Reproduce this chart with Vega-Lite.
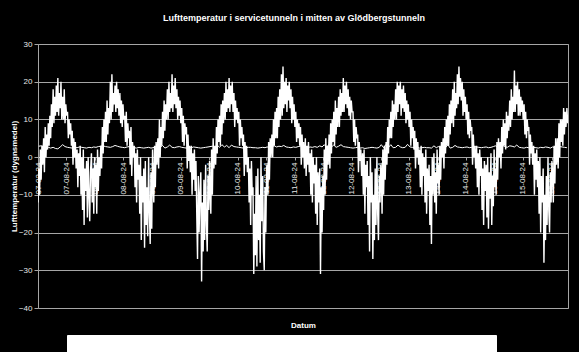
{
"$schema":"https://vega.github.io/schema/vega-lite/v6.json",
"autosize":{"type":"none"},
"padding":{"left":38,"top":44,"right":11,"bottom":44},
"width":530,"height":264,
"background":"black",
"title":{"text":"Lufttemperatur  i servicetunneln i mitten av Glödbergstunneln","font":"Liberation Sans","fontSize":9,"fontWeight":"bold","color":"white","anchor":"middle","baseline":"bottom","offset":8,"dx":-9},
"datasets":{
"tunnel":[
{"d":"2007-03-01","t":2.9},{"d":"2007-03-16","t":3.0},{"d":"2007-04-01","t":2.8},{"d":"2007-04-16","t":2.7},{"d":"2007-05-01","t":2.6},{"d":"2007-05-16","t":2.4},{"d":"2007-06-01","t":2.6},{"d":"2007-06-16","t":2.3},{"d":"2007-07-01","t":2.2},{"d":"2007-07-16","t":2.7},{"d":"2007-08-01","t":3.3},{"d":"2007-08-16","t":2.8},{"d":"2007-09-01","t":2.6},{"d":"2007-09-16","t":2.5},{"d":"2007-10-01","t":2.4},{"d":"2007-10-16","t":2.6},{"d":"2007-11-01","t":2.5},{"d":"2007-11-16","t":2.7},{"d":"2007-12-01","t":2.6},{"d":"2007-12-16","t":2.5},
{"d":"2008-01-01","t":2.4},{"d":"2008-01-16","t":2.6},{"d":"2008-02-01","t":2.5},{"d":"2008-02-16","t":2.7},{"d":"2008-03-01","t":2.6},{"d":"2008-03-16","t":2.8},{"d":"2008-04-01","t":2.9},{"d":"2008-04-16","t":3.0},{"d":"2008-05-01","t":2.8},{"d":"2008-05-16","t":2.7},{"d":"2008-06-01","t":2.6},{"d":"2008-06-16","t":2.8},{"d":"2008-07-01","t":3.1},{"d":"2008-07-16","t":2.9},{"d":"2008-08-01","t":2.7},{"d":"2008-08-16","t":2.6},{"d":"2008-09-01","t":2.5},{"d":"2008-09-16","t":2.7},{"d":"2008-10-01","t":2.8},{"d":"2008-10-16","t":2.6},{"d":"2008-11-01","t":2.5},{"d":"2008-11-16","t":2.4},{"d":"2008-12-01","t":2.6},{"d":"2008-12-16","t":2.5},
{"d":"2009-01-01","t":2.4},{"d":"2009-01-16","t":2.5},{"d":"2009-02-01","t":2.6},{"d":"2009-02-16","t":2.4},{"d":"2009-03-01","t":2.5},{"d":"2009-03-16","t":2.7},{"d":"2009-04-01","t":3.2},{"d":"2009-04-16","t":2.6},{"d":"2009-05-01","t":3.1},{"d":"2009-05-16","t":2.4},{"d":"2009-06-01","t":2.7},{"d":"2009-06-16","t":3.2},{"d":"2009-07-01","t":2.6},{"d":"2009-07-16","t":2.5},{"d":"2009-08-01","t":2.7},{"d":"2009-08-16","t":2.8},{"d":"2009-09-01","t":2.6},{"d":"2009-09-16","t":2.5},{"d":"2009-10-01","t":2.4},{"d":"2009-10-16","t":2.6},{"d":"2009-11-01","t":2.5},{"d":"2009-11-16","t":2.7},{"d":"2009-12-01","t":2.6},{"d":"2009-12-16","t":2.5},
{"d":"2010-01-01","t":2.4},{"d":"2010-01-16","t":2.5},{"d":"2010-02-01","t":2.6},{"d":"2010-02-16","t":2.7},{"d":"2010-03-01","t":2.8},{"d":"2010-03-16","t":2.9},{"d":"2010-04-01","t":2.7},{"d":"2010-04-16","t":3.2},{"d":"2010-05-01","t":2.6},{"d":"2010-05-16","t":3.3},{"d":"2010-06-01","t":2.7},{"d":"2010-06-16","t":3.1},{"d":"2010-07-01","t":2.5},{"d":"2010-07-16","t":3.2},{"d":"2010-08-01","t":2.8},{"d":"2010-08-16","t":2.7},{"d":"2010-09-01","t":2.6},{"d":"2010-09-16","t":2.5},{"d":"2010-10-01","t":2.4},{"d":"2010-10-16","t":2.5},{"d":"2010-11-01","t":2.6},{"d":"2010-11-16","t":2.6},{"d":"2010-12-01","t":2.5},{"d":"2010-12-16","t":2.5},
{"d":"2011-01-01","t":2.4},{"d":"2011-01-16","t":2.5},{"d":"2011-02-01","t":2.6},{"d":"2011-02-16","t":2.5},{"d":"2011-03-01","t":2.7},{"d":"2011-03-16","t":2.6},{"d":"2011-04-01","t":2.8},{"d":"2011-04-16","t":3.0},{"d":"2011-05-01","t":2.7},{"d":"2011-05-16","t":2.9},{"d":"2011-06-01","t":2.8},{"d":"2011-06-16","t":3.1},{"d":"2011-07-01","t":2.7},{"d":"2011-07-16","t":2.6},{"d":"2011-08-01","t":2.5},{"d":"2011-08-16","t":2.7},{"d":"2011-09-01","t":2.6},{"d":"2011-09-16","t":2.8},{"d":"2011-10-01","t":2.9},{"d":"2011-10-16","t":2.7},{"d":"2011-11-01","t":2.6},{"d":"2011-11-16","t":2.5},{"d":"2011-12-01","t":2.7},{"d":"2011-12-16","t":2.6},
{"d":"2012-01-01","t":2.8},{"d":"2012-01-16","t":2.6},{"d":"2012-02-01","t":3.0},{"d":"2012-02-16","t":2.7},{"d":"2012-03-01","t":3.3},{"d":"2012-03-16","t":2.6},{"d":"2012-04-01","t":3.4},{"d":"2012-04-16","t":2.7},{"d":"2012-05-01","t":3.2},{"d":"2012-05-16","t":2.6},{"d":"2012-06-01","t":2.9},{"d":"2012-06-16","t":3.3},{"d":"2012-07-01","t":2.8},{"d":"2012-07-16","t":2.7},{"d":"2012-08-01","t":2.6},{"d":"2012-08-16","t":2.5},{"d":"2012-09-01","t":2.4},{"d":"2012-09-16","t":2.5},{"d":"2012-10-01","t":2.6},{"d":"2012-10-16","t":2.4},{"d":"2012-11-01","t":2.5},{"d":"2012-11-16","t":2.3},{"d":"2012-12-01","t":2.4},{"d":"2012-12-16","t":2.5},
{"d":"2013-01-01","t":2.6},{"d":"2013-01-16","t":2.5},{"d":"2013-02-01","t":2.4},{"d":"2013-02-16","t":2.6},{"d":"2013-03-01","t":3.3},{"d":"2013-03-16","t":2.5},{"d":"2013-04-01","t":3.4},{"d":"2013-04-16","t":2.6},{"d":"2013-05-01","t":3.3},{"d":"2013-05-16","t":2.5},{"d":"2013-06-01","t":2.6},{"d":"2013-06-16","t":3.2},{"d":"2013-07-01","t":2.7},{"d":"2013-07-16","t":2.5},{"d":"2013-08-01","t":2.6},{"d":"2013-08-16","t":3.4},{"d":"2013-09-01","t":2.7},{"d":"2013-09-16","t":2.6},{"d":"2013-10-01","t":2.5},{"d":"2013-10-16","t":2.6},{"d":"2013-11-01","t":2.4},{"d":"2013-11-16","t":2.5},{"d":"2013-12-01","t":2.6},{"d":"2013-12-16","t":2.5},
{"d":"2014-01-01","t":2.5},{"d":"2014-01-16","t":2.4},{"d":"2014-02-01","t":3.0},{"d":"2014-02-16","t":2.5},{"d":"2014-03-01","t":2.8},{"d":"2014-03-16","t":2.6},{"d":"2014-04-01","t":3.2},{"d":"2014-04-16","t":2.5},{"d":"2014-05-01","t":3.3},{"d":"2014-05-16","t":2.4},{"d":"2014-06-01","t":2.6},{"d":"2014-06-16","t":3.1},{"d":"2014-07-01","t":2.7},{"d":"2014-07-16","t":2.6},{"d":"2014-08-01","t":2.5},{"d":"2014-08-16","t":2.6},{"d":"2014-09-01","t":2.7},{"d":"2014-09-16","t":2.5},{"d":"2014-10-01","t":2.6},{"d":"2014-10-16","t":2.8},{"d":"2014-11-01","t":2.7},{"d":"2014-11-16","t":2.6},{"d":"2014-12-01","t":2.5},{"d":"2014-12-16","t":2.6},
{"d":"2015-01-01","t":2.7},{"d":"2015-01-16","t":2.5},{"d":"2015-02-01","t":2.6},{"d":"2015-02-16","t":2.8},{"d":"2015-03-01","t":3.0},{"d":"2015-03-16","t":2.7},{"d":"2015-04-01","t":2.9},{"d":"2015-04-16","t":3.1},{"d":"2015-05-01","t":2.8},{"d":"2015-05-16","t":2.6},{"d":"2015-06-01","t":3.0},{"d":"2015-06-16","t":2.9},{"d":"2015-07-01","t":2.7},{"d":"2015-07-16","t":3.2},{"d":"2015-08-01","t":2.6},{"d":"2015-08-16","t":2.5},{"d":"2015-09-01","t":2.4},{"d":"2015-09-16","t":2.6},{"d":"2015-10-01","t":2.5},{"d":"2015-10-16","t":2.7},{"d":"2015-11-01","t":2.6},{"d":"2015-11-16","t":2.5},{"d":"2015-12-01","t":2.4},{"d":"2015-12-16","t":2.6},
{"d":"2016-01-01","t":2.5},{"d":"2016-01-16","t":2.7},{"d":"2016-02-01","t":2.6},{"d":"2016-02-16","t":2.4},{"d":"2016-03-01","t":2.7},{"d":"2016-03-16","t":2.5},{"d":"2016-04-01","t":2.6},{"d":"2016-04-16","t":2.8},{"d":"2016-05-01","t":2.7},{"d":"2016-05-16","t":2.6},{"d":"2016-06-01","t":2.5}
],
"ute":[
{"d":"2007-02-24","t":-12},
{"d":"2007-03-01","t":-3},{"d":"2007-03-06","t":-10},{"d":"2007-03-11","t":2},{"d":"2007-03-16","t":-6},{"d":"2007-03-21","t":3},{"d":"2007-03-26","t":-2},
{"d":"2007-04-01","t":5},{"d":"2007-04-06","t":-4},{"d":"2007-04-11","t":8},{"d":"2007-04-16","t":0},{"d":"2007-04-21","t":6},{"d":"2007-04-26","t":2},
{"d":"2007-05-01","t":9},{"d":"2007-05-06","t":3},{"d":"2007-05-11","t":11},{"d":"2007-05-16","t":5},{"d":"2007-05-21","t":14},{"d":"2007-05-26","t":8},
{"d":"2007-06-01","t":18},{"d":"2007-06-06","t":9},{"d":"2007-06-11","t":16},{"d":"2007-06-16","t":11},{"d":"2007-06-21","t":19},{"d":"2007-06-26","t":12},
{"d":"2007-07-01","t":21},{"d":"2007-07-06","t":11},{"d":"2007-07-11","t":17},{"d":"2007-07-16","t":13},{"d":"2007-07-21","t":20},{"d":"2007-07-26","t":10},
{"d":"2007-08-01","t":16},{"d":"2007-08-06","t":10},{"d":"2007-08-11","t":18},{"d":"2007-08-16","t":9},{"d":"2007-08-21","t":14},{"d":"2007-08-26","t":11},
{"d":"2007-09-01","t":12},{"d":"2007-09-06","t":5},{"d":"2007-09-11","t":10},{"d":"2007-09-16","t":6},{"d":"2007-09-21","t":9},{"d":"2007-09-26","t":3},
{"d":"2007-10-01","t":7},{"d":"2007-10-06","t":-2},{"d":"2007-10-11","t":5},{"d":"2007-10-16","t":0},{"d":"2007-10-21","t":4},{"d":"2007-10-26","t":-3},
{"d":"2007-11-01","t":2},{"d":"2007-11-06","t":-8},{"d":"2007-11-11","t":1},{"d":"2007-11-16","t":-5},{"d":"2007-11-21","t":3},{"d":"2007-11-26","t":-10},
{"d":"2007-12-01","t":0},{"d":"2007-12-06","t":-14},{"d":"2007-12-11","t":2},{"d":"2007-12-16","t":-18},{"d":"2007-12-21","t":-3},{"d":"2007-12-26","t":-9},
{"d":"2008-01-01","t":-1},{"d":"2008-01-06","t":-16},{"d":"2008-01-11","t":0},{"d":"2008-01-16","t":-10},{"d":"2008-01-21","t":-17},{"d":"2008-01-26","t":-4},
{"d":"2008-02-01","t":1},{"d":"2008-02-06","t":-12},{"d":"2008-02-11","t":-3},{"d":"2008-02-16","t":-15},{"d":"2008-02-21","t":0},{"d":"2008-02-26","t":-8},
{"d":"2008-03-01","t":-2},{"d":"2008-03-06","t":-15},{"d":"2008-03-11","t":2},{"d":"2008-03-16","t":-9},{"d":"2008-03-21","t":0},{"d":"2008-03-26","t":-5},
{"d":"2008-04-01","t":3},{"d":"2008-04-06","t":-3},{"d":"2008-04-11","t":8},{"d":"2008-04-16","t":1},{"d":"2008-04-21","t":10},{"d":"2008-04-26","t":4},
{"d":"2008-05-01","t":12},{"d":"2008-05-06","t":4},{"d":"2008-05-11","t":15},{"d":"2008-05-16","t":6},{"d":"2008-05-21","t":13},{"d":"2008-05-26","t":9},
{"d":"2008-06-01","t":20},{"d":"2008-06-06","t":10},{"d":"2008-06-11","t":22},{"d":"2008-06-16","t":12},{"d":"2008-06-21","t":17},{"d":"2008-06-26","t":14},
{"d":"2008-07-01","t":19},{"d":"2008-07-06","t":12},{"d":"2008-07-11","t":20},{"d":"2008-07-16","t":13},{"d":"2008-07-21","t":18},{"d":"2008-07-26","t":11},
{"d":"2008-08-01","t":17},{"d":"2008-08-06","t":9},{"d":"2008-08-11","t":15},{"d":"2008-08-16","t":8},{"d":"2008-08-21","t":14},{"d":"2008-08-26","t":10},
{"d":"2008-09-01","t":11},{"d":"2008-09-06","t":4},{"d":"2008-09-11","t":12},{"d":"2008-09-16","t":3},{"d":"2008-09-21","t":9},{"d":"2008-09-26","t":5},
{"d":"2008-10-01","t":7},{"d":"2008-10-06","t":-2},{"d":"2008-10-11","t":8},{"d":"2008-10-16","t":-5},{"d":"2008-10-21","t":4},{"d":"2008-10-26","t":0},
{"d":"2008-11-01","t":3},{"d":"2008-11-06","t":-8},{"d":"2008-11-11","t":1},{"d":"2008-11-16","t":-12},{"d":"2008-11-21","t":2},{"d":"2008-11-26","t":-6},
{"d":"2008-12-01","t":-2},{"d":"2008-12-06","t":-15},{"d":"2008-12-11","t":0},{"d":"2008-12-16","t":-22},{"d":"2008-12-21","t":-5},{"d":"2008-12-26","t":-12},
{"d":"2009-01-01","t":-3},{"d":"2009-01-06","t":-24},{"d":"2009-01-11","t":-1},{"d":"2009-01-16","t":-18},{"d":"2009-01-21","t":-8},{"d":"2009-01-26","t":-21},
{"d":"2009-02-01","t":0},{"d":"2009-02-06","t":-15},{"d":"2009-02-11","t":-23},{"d":"2009-02-16","t":-4},{"d":"2009-02-21","t":-19},{"d":"2009-02-26","t":2},
{"d":"2009-03-01","t":-5},{"d":"2009-03-06","t":-12},{"d":"2009-03-11","t":3},{"d":"2009-03-16","t":-8},{"d":"2009-03-21","t":4},{"d":"2009-03-26","t":-2},
{"d":"2009-04-01","t":5},{"d":"2009-04-06","t":-3},{"d":"2009-04-11","t":10},{"d":"2009-04-16","t":0},{"d":"2009-04-21","t":8},{"d":"2009-04-26","t":3},
{"d":"2009-05-01","t":12},{"d":"2009-05-06","t":5},{"d":"2009-05-11","t":15},{"d":"2009-05-16","t":7},{"d":"2009-05-21","t":14},{"d":"2009-05-26","t":10},
{"d":"2009-06-01","t":18},{"d":"2009-06-06","t":10},{"d":"2009-06-11","t":20},{"d":"2009-06-16","t":12},{"d":"2009-06-21","t":17},{"d":"2009-06-26","t":13},
{"d":"2009-07-01","t":22},{"d":"2009-07-06","t":12},{"d":"2009-07-11","t":19},{"d":"2009-07-16","t":14},{"d":"2009-07-21","t":21},{"d":"2009-07-26","t":13},
{"d":"2009-08-01","t":18},{"d":"2009-08-06","t":10},{"d":"2009-08-11","t":16},{"d":"2009-08-16","t":11},{"d":"2009-08-21","t":15},{"d":"2009-08-26","t":9},
{"d":"2009-09-01","t":13},{"d":"2009-09-06","t":4},{"d":"2009-09-11","t":11},{"d":"2009-09-16","t":3},{"d":"2009-09-21","t":9},{"d":"2009-09-26","t":6},
{"d":"2009-10-01","t":8},{"d":"2009-10-06","t":-3},{"d":"2009-10-11","t":6},{"d":"2009-10-16","t":-1},{"d":"2009-10-21","t":3},{"d":"2009-10-26","t":-4},
{"d":"2009-11-01","t":3},{"d":"2009-11-06","t":-10},{"d":"2009-11-11","t":1},{"d":"2009-11-16","t":-6},{"d":"2009-11-21","t":2},{"d":"2009-11-26","t":-9},
{"d":"2009-12-01","t":-1},{"d":"2009-12-06","t":-15},{"d":"2009-12-11","t":-27},{"d":"2009-12-16","t":-5},{"d":"2009-12-21","t":-20},{"d":"2009-12-26","t":-10},
{"d":"2010-01-01","t":-4},{"d":"2010-01-06","t":-33},{"d":"2010-01-11","t":-12},{"d":"2010-01-16","t":-25},{"d":"2010-01-21","t":-6},{"d":"2010-01-26","t":-22},
{"d":"2010-02-01","t":-2},{"d":"2010-02-06","t":-18},{"d":"2010-02-11","t":-25},{"d":"2010-02-16","t":-5},{"d":"2010-02-21","t":-14},{"d":"2010-02-26","t":-1},
{"d":"2010-03-01","t":-8},{"d":"2010-03-06","t":-15},{"d":"2010-03-11","t":2},{"d":"2010-03-16","t":-10},{"d":"2010-03-21","t":5},{"d":"2010-03-26","t":-3},
{"d":"2010-04-01","t":3},{"d":"2010-04-06","t":-2},{"d":"2010-04-11","t":8},{"d":"2010-04-16","t":1},{"d":"2010-04-21","t":10},{"d":"2010-04-26","t":4},
{"d":"2010-05-01","t":11},{"d":"2010-05-06","t":3},{"d":"2010-05-11","t":14},{"d":"2010-05-16","t":6},{"d":"2010-05-21","t":15},{"d":"2010-05-26","t":9},
{"d":"2010-06-01","t":17},{"d":"2010-06-06","t":10},{"d":"2010-06-11","t":20},{"d":"2010-06-16","t":12},{"d":"2010-06-21","t":18},{"d":"2010-06-26","t":13},
{"d":"2010-07-01","t":21},{"d":"2010-07-06","t":12},{"d":"2010-07-11","t":19},{"d":"2010-07-16","t":14},{"d":"2010-07-21","t":20},{"d":"2010-07-26","t":12},
{"d":"2010-08-01","t":17},{"d":"2010-08-06","t":8},{"d":"2010-08-11","t":15},{"d":"2010-08-16","t":10},{"d":"2010-08-21","t":13},{"d":"2010-08-26","t":9},
{"d":"2010-09-01","t":12},{"d":"2010-09-06","t":3},{"d":"2010-09-11","t":10},{"d":"2010-09-16","t":5},{"d":"2010-09-21","t":8},{"d":"2010-09-26","t":3},
{"d":"2010-10-01","t":6},{"d":"2010-10-06","t":-5},{"d":"2010-10-11","t":4},{"d":"2010-10-16","t":-2},{"d":"2010-10-21","t":3},{"d":"2010-10-26","t":-4},
{"d":"2010-11-01","t":0},{"d":"2010-11-06","t":-12},{"d":"2010-11-11","t":-3},{"d":"2010-11-16","t":-18},{"d":"2010-11-21","t":-1},{"d":"2010-11-26","t":-10},
{"d":"2010-12-01","t":-8},{"d":"2010-12-06","t":-31},{"d":"2010-12-11","t":-15},{"d":"2010-12-16","t":-26},{"d":"2010-12-21","t":-5},{"d":"2010-12-26","t":-29},
{"d":"2011-01-01","t":-3},{"d":"2011-01-06","t":-22},{"d":"2011-01-11","t":-10},{"d":"2011-01-16","t":-28},{"d":"2011-01-21","t":0},{"d":"2011-01-26","t":-17},
{"d":"2011-02-01","t":-5},{"d":"2011-02-06","t":-25},{"d":"2011-02-11","t":-30},{"d":"2011-02-16","t":-8},{"d":"2011-02-21","t":-20},{"d":"2011-02-26","t":-3},
{"d":"2011-03-01","t":-2},{"d":"2011-03-06","t":-10},{"d":"2011-03-11","t":4},{"d":"2011-03-16","t":-6},{"d":"2011-03-21","t":5},{"d":"2011-03-26","t":0},
{"d":"2011-04-01","t":6},{"d":"2011-04-06","t":0},{"d":"2011-04-11","t":10},{"d":"2011-04-16","t":3},{"d":"2011-04-21","t":12},{"d":"2011-04-26","t":5},
{"d":"2011-05-01","t":13},{"d":"2011-05-06","t":5},{"d":"2011-05-11","t":16},{"d":"2011-05-16","t":8},{"d":"2011-05-21","t":18},{"d":"2011-05-26","t":10},
{"d":"2011-06-01","t":22},{"d":"2011-06-06","t":11},{"d":"2011-06-11","t":24},{"d":"2011-06-16","t":13},{"d":"2011-06-21","t":20},{"d":"2011-06-26","t":14},
{"d":"2011-07-01","t":21},{"d":"2011-07-06","t":12},{"d":"2011-07-11","t":19},{"d":"2011-07-16","t":15},{"d":"2011-07-21","t":20},{"d":"2011-07-26","t":13},
{"d":"2011-08-01","t":18},{"d":"2011-08-06","t":9},{"d":"2011-08-11","t":16},{"d":"2011-08-16","t":10},{"d":"2011-08-21","t":14},{"d":"2011-08-26","t":8},
{"d":"2011-09-01","t":12},{"d":"2011-09-06","t":4},{"d":"2011-09-11","t":10},{"d":"2011-09-16","t":5},{"d":"2011-09-21","t":9},{"d":"2011-09-26","t":3},
{"d":"2011-10-01","t":8},{"d":"2011-10-06","t":-2},{"d":"2011-10-11","t":6},{"d":"2011-10-16","t":0},{"d":"2011-10-21","t":4},{"d":"2011-10-26","t":-3},
{"d":"2011-11-01","t":5},{"d":"2011-11-06","t":-5},{"d":"2011-11-11","t":3},{"d":"2011-11-16","t":-2},{"d":"2011-11-21","t":4},{"d":"2011-11-26","t":-4},
{"d":"2011-12-01","t":1},{"d":"2011-12-06","t":-10},{"d":"2011-12-11","t":2},{"d":"2011-12-16","t":-12},{"d":"2011-12-21","t":0},{"d":"2011-12-26","t":-7},
{"d":"2012-01-01","t":-2},{"d":"2012-01-06","t":-15},{"d":"2012-01-11","t":0},{"d":"2012-01-16","t":-18},{"d":"2012-01-21","t":-4},{"d":"2012-01-26","t":-12},
{"d":"2012-02-01","t":-3},{"d":"2012-02-06","t":-31},{"d":"2012-02-11","t":-8},{"d":"2012-02-16","t":-20},{"d":"2012-02-21","t":-5},{"d":"2012-02-26","t":-14},
{"d":"2012-03-01","t":2},{"d":"2012-03-06","t":-10},{"d":"2012-03-11","t":5},{"d":"2012-03-16","t":-6},{"d":"2012-03-21","t":3},{"d":"2012-03-26","t":-2},
{"d":"2012-04-01","t":6},{"d":"2012-04-06","t":-3},{"d":"2012-04-11","t":9},{"d":"2012-04-16","t":1},{"d":"2012-04-21","t":10},{"d":"2012-04-26","t":4},
{"d":"2012-05-01","t":12},{"d":"2012-05-06","t":3},{"d":"2012-05-11","t":15},{"d":"2012-05-16","t":6},{"d":"2012-05-21","t":13},{"d":"2012-05-26","t":8},
{"d":"2012-06-01","t":16},{"d":"2012-06-06","t":8},{"d":"2012-06-11","t":18},{"d":"2012-06-16","t":11},{"d":"2012-06-21","t":17},{"d":"2012-06-26","t":12},
{"d":"2012-07-01","t":21},{"d":"2012-07-06","t":12},{"d":"2012-07-11","t":19},{"d":"2012-07-16","t":14},{"d":"2012-07-21","t":20},{"d":"2012-07-26","t":13},
{"d":"2012-08-01","t":18},{"d":"2012-08-06","t":11},{"d":"2012-08-11","t":16},{"d":"2012-08-16","t":10},{"d":"2012-08-21","t":15},{"d":"2012-08-26","t":12},
{"d":"2012-09-01","t":12},{"d":"2012-09-06","t":4},{"d":"2012-09-11","t":10},{"d":"2012-09-16","t":3},{"d":"2012-09-21","t":8},{"d":"2012-09-26","t":5},
{"d":"2012-10-01","t":6},{"d":"2012-10-06","t":-4},{"d":"2012-10-11","t":4},{"d":"2012-10-16","t":-1},{"d":"2012-10-21","t":2},{"d":"2012-10-26","t":-5},
{"d":"2012-11-01","t":1},{"d":"2012-11-06","t":-10},{"d":"2012-11-11","t":2},{"d":"2012-11-16","t":-15},{"d":"2012-11-21","t":-2},{"d":"2012-11-26","t":-8},
{"d":"2012-12-01","t":-1},{"d":"2012-12-06","t":-18},{"d":"2012-12-11","t":-5},{"d":"2012-12-16","t":-25},{"d":"2012-12-21","t":0},{"d":"2012-12-26","t":-12},
{"d":"2013-01-01","t":-4},{"d":"2013-01-06","t":-27},{"d":"2013-01-11","t":-10},{"d":"2013-01-16","t":-22},{"d":"2013-01-21","t":-3},{"d":"2013-01-26","t":-18},
{"d":"2013-02-01","t":0},{"d":"2013-02-06","t":-15},{"d":"2013-02-11","t":-22},{"d":"2013-02-16","t":-5},{"d":"2013-02-21","t":-12},{"d":"2013-02-26","t":-2},
{"d":"2013-03-01","t":-3},{"d":"2013-03-06","t":-15},{"d":"2013-03-11","t":2},{"d":"2013-03-16","t":-10},{"d":"2013-03-21","t":3},{"d":"2013-03-26","t":-6},
{"d":"2013-04-01","t":4},{"d":"2013-04-06","t":-2},{"d":"2013-04-11","t":8},{"d":"2013-04-16","t":1},{"d":"2013-04-21","t":10},{"d":"2013-04-26","t":5},
{"d":"2013-05-01","t":12},{"d":"2013-05-06","t":5},{"d":"2013-05-11","t":15},{"d":"2013-05-16","t":8},{"d":"2013-05-21","t":14},{"d":"2013-05-26","t":10},
{"d":"2013-06-01","t":18},{"d":"2013-06-06","t":10},{"d":"2013-06-11","t":20},{"d":"2013-06-16","t":12},{"d":"2013-06-21","t":19},{"d":"2013-06-26","t":14},
{"d":"2013-07-01","t":20},{"d":"2013-07-06","t":11},{"d":"2013-07-11","t":18},{"d":"2013-07-16","t":13},{"d":"2013-07-21","t":19},{"d":"2013-07-26","t":12},
{"d":"2013-08-01","t":17},{"d":"2013-08-06","t":9},{"d":"2013-08-11","t":15},{"d":"2013-08-16","t":10},{"d":"2013-08-21","t":14},{"d":"2013-08-26","t":8},
{"d":"2013-09-01","t":12},{"d":"2013-09-06","t":3},{"d":"2013-09-11","t":10},{"d":"2013-09-16","t":5},{"d":"2013-09-21","t":8},{"d":"2013-09-26","t":2},
{"d":"2013-10-01","t":7},{"d":"2013-10-06","t":-3},{"d":"2013-10-11","t":5},{"d":"2013-10-16","t":0},{"d":"2013-10-21","t":4},{"d":"2013-10-26","t":-2},
{"d":"2013-11-01","t":2},{"d":"2013-11-06","t":-8},{"d":"2013-11-11","t":3},{"d":"2013-11-16","t":-10},{"d":"2013-11-21","t":1},{"d":"2013-11-26","t":-5},
{"d":"2013-12-01","t":0},{"d":"2013-12-06","t":-12},{"d":"2013-12-11","t":2},{"d":"2013-12-16","t":-15},{"d":"2013-12-21","t":-3},{"d":"2013-12-26","t":-9},
{"d":"2014-01-01","t":-2},{"d":"2014-01-06","t":-18},{"d":"2014-01-11","t":-5},{"d":"2014-01-16","t":-23},{"d":"2014-01-21","t":0},{"d":"2014-01-26","t":-10},
{"d":"2014-02-01","t":1},{"d":"2014-02-06","t":-12},{"d":"2014-02-11","t":-4},{"d":"2014-02-16","t":-15},{"d":"2014-02-21","t":2},{"d":"2014-02-26","t":-7},
{"d":"2014-03-01","t":-2},{"d":"2014-03-06","t":-10},{"d":"2014-03-11","t":3},{"d":"2014-03-16","t":-6},{"d":"2014-03-21","t":4},{"d":"2014-03-26","t":0},
{"d":"2014-04-01","t":5},{"d":"2014-04-06","t":-3},{"d":"2014-04-11","t":8},{"d":"2014-04-16","t":1},{"d":"2014-04-21","t":10},{"d":"2014-04-26","t":3},
{"d":"2014-05-01","t":11},{"d":"2014-05-06","t":3},{"d":"2014-05-11","t":14},{"d":"2014-05-16","t":6},{"d":"2014-05-21","t":15},{"d":"2014-05-26","t":9},
{"d":"2014-06-01","t":18},{"d":"2014-06-06","t":8},{"d":"2014-06-11","t":20},{"d":"2014-06-16","t":11},{"d":"2014-06-21","t":17},{"d":"2014-06-26","t":13},
{"d":"2014-07-01","t":22},{"d":"2014-07-06","t":14},{"d":"2014-07-11","t":24},{"d":"2014-07-16","t":16},{"d":"2014-07-21","t":21},{"d":"2014-07-26","t":15},
{"d":"2014-08-01","t":20},{"d":"2014-08-06","t":11},{"d":"2014-08-11","t":18},{"d":"2014-08-16","t":12},{"d":"2014-08-21","t":16},{"d":"2014-08-26","t":10},
{"d":"2014-09-01","t":14},{"d":"2014-09-06","t":6},{"d":"2014-09-11","t":12},{"d":"2014-09-16","t":5},{"d":"2014-09-21","t":10},{"d":"2014-09-26","t":7},
{"d":"2014-10-01","t":8},{"d":"2014-10-06","t":-2},{"d":"2014-10-11","t":6},{"d":"2014-10-16","t":0},{"d":"2014-10-21","t":3},{"d":"2014-10-26","t":-3},
{"d":"2014-11-01","t":3},{"d":"2014-11-06","t":-8},{"d":"2014-11-11","t":1},{"d":"2014-11-16","t":-10},{"d":"2014-11-21","t":2},{"d":"2014-11-26","t":-5},
{"d":"2014-12-01","t":0},{"d":"2014-12-06","t":-14},{"d":"2014-12-11","t":-3},{"d":"2014-12-16","t":-18},{"d":"2014-12-21","t":-1},{"d":"2014-12-26","t":-9},
{"d":"2015-01-01","t":-2},{"d":"2015-01-06","t":-16},{"d":"2015-01-11","t":0},{"d":"2015-01-16","t":-19},{"d":"2015-01-21","t":-4},{"d":"2015-01-26","t":-11},
{"d":"2015-02-01","t":1},{"d":"2015-02-06","t":-18},{"d":"2015-02-11","t":-5},{"d":"2015-02-16","t":-13},{"d":"2015-02-21","t":2},{"d":"2015-02-26","t":-8},
{"d":"2015-03-01","t":-3},{"d":"2015-03-06","t":-10},{"d":"2015-03-11","t":4},{"d":"2015-03-16","t":-6},{"d":"2015-03-21","t":5},{"d":"2015-03-26","t":0},
{"d":"2015-04-01","t":4},{"d":"2015-04-06","t":-3},{"d":"2015-04-11","t":8},{"d":"2015-04-16","t":1},{"d":"2015-04-21","t":10},{"d":"2015-04-26","t":3},
{"d":"2015-05-01","t":9},{"d":"2015-05-06","t":2},{"d":"2015-05-11","t":12},{"d":"2015-05-16","t":5},{"d":"2015-05-21","t":11},{"d":"2015-05-26","t":7},
{"d":"2015-06-01","t":15},{"d":"2015-06-06","t":8},{"d":"2015-06-11","t":18},{"d":"2015-06-16","t":10},{"d":"2015-06-21","t":16},{"d":"2015-06-26","t":12},
{"d":"2015-07-01","t":23},{"d":"2015-07-06","t":12},{"d":"2015-07-11","t":19},{"d":"2015-07-16","t":14},{"d":"2015-07-21","t":20},{"d":"2015-07-26","t":11},
{"d":"2015-08-01","t":18},{"d":"2015-08-06","t":11},{"d":"2015-08-11","t":16},{"d":"2015-08-16","t":12},{"d":"2015-08-21","t":15},{"d":"2015-08-26","t":10},
{"d":"2015-09-01","t":14},{"d":"2015-09-06","t":6},{"d":"2015-09-11","t":12},{"d":"2015-09-16","t":5},{"d":"2015-09-21","t":10},{"d":"2015-09-26","t":7},
{"d":"2015-10-01","t":8},{"d":"2015-10-06","t":-2},{"d":"2015-10-11","t":6},{"d":"2015-10-16","t":1},{"d":"2015-10-21","t":4},{"d":"2015-10-26","t":-2},
{"d":"2015-11-01","t":3},{"d":"2015-11-06","t":-10},{"d":"2015-11-11","t":1},{"d":"2015-11-16","t":-6},{"d":"2015-11-21","t":2},{"d":"2015-11-26","t":-8},
{"d":"2015-12-01","t":-1},{"d":"2015-12-06","t":-15},{"d":"2015-12-11","t":0},{"d":"2015-12-16","t":-20},{"d":"2015-12-21","t":-5},{"d":"2015-12-26","t":-12},
{"d":"2016-01-01","t":-3},{"d":"2016-01-06","t":-28},{"d":"2016-01-11","t":-10},{"d":"2016-01-16","t":-22},{"d":"2016-01-21","t":-5},{"d":"2016-01-26","t":-18},
{"d":"2016-02-01","t":0},{"d":"2016-02-06","t":-14},{"d":"2016-02-11","t":-20},{"d":"2016-02-16","t":-4},{"d":"2016-02-21","t":-12},{"d":"2016-02-26","t":-1},
{"d":"2016-03-01","t":-4},{"d":"2016-03-06","t":-12},{"d":"2016-03-11","t":3},{"d":"2016-03-16","t":-7},{"d":"2016-03-21","t":5},{"d":"2016-03-26","t":-2},
{"d":"2016-04-01","t":5},{"d":"2016-04-06","t":-3},{"d":"2016-04-11","t":9},{"d":"2016-04-16","t":0},{"d":"2016-04-21","t":10},{"d":"2016-04-26","t":4},
{"d":"2016-05-01","t":10},{"d":"2016-05-06","t":3},{"d":"2016-05-11","t":13},{"d":"2016-05-16","t":6},{"d":"2016-05-21","t":12},{"d":"2016-05-26","t":8},
{"d":"2016-06-01","t":13},{"d":"2016-06-06","t":9}
]
},
"encoding":{
"x":{"field":"d","type":"temporal",
"scale":{"domain":[{"year":2007,"month":2,"date":24},{"year":2016,"month":6,"date":8}]},
"axis":{"title":"Datum","offset":-151,"format":"%y-%m-%d","labelAngle":-90,"labelFlush":false,"labelOverlap":false,"labelBound":false,"tickSize":3,"labelPadding":2,"grid":false,"titleY":168,"titleBaseline":"middle",
"values":[{"year":2007,"month":2,"date":24},{"year":2007,"month":8,"date":24},{"year":2008,"month":2,"date":24},{"year":2008,"month":8,"date":24},{"year":2009,"month":2,"date":24},{"year":2009,"month":8,"date":24},{"year":2010,"month":2,"date":24},{"year":2010,"month":8,"date":24},{"year":2011,"month":2,"date":24},{"year":2011,"month":8,"date":24},{"year":2012,"month":2,"date":24},{"year":2012,"month":8,"date":24},{"year":2013,"month":2,"date":24},{"year":2013,"month":8,"date":24},{"year":2014,"month":2,"date":24},{"year":2014,"month":8,"date":24},{"year":2015,"month":2,"date":24},{"year":2015,"month":8,"date":24},{"year":2016,"month":2,"date":24}]}},
"y":{"field":"t","type":"quantitative",
"scale":{"domain":[-40,30],"nice":false,"zero":false},
"axis":{"title":"Lufttemperatur (dygnsmedel)","values":[-40,-30,-20,-10,0,10,20,30],"tickSize":4,"grid":true,"labelPadding":2,"titleX":-24,"titleBaseline":"middle"}}
},
"layer":[
{"data":{"name":"tunnel"},"mark":{"type":"line","strokeWidth":1,"clip":true},
"encoding":{"color":{"datum":"Lufttemperatur huvudtunnel","type":"nominal","scale":{"range":["white","white"]},
"legend":{"orient":"none","legendX":29,"legendY":291,"direction":"horizontal","title":null,"fillColor":"white","strokeColor":"white","padding":6,"columnPadding":183,"labelColor":"white","labelFontSize":8,"symbolType":"stroke","symbolStrokeColor":"white"}}}},
{"data":{"name":"ute"},"mark":{"type":"line","strokeWidth":1.4,"clip":true},
"encoding":{"color":{"datum":"Lufttemperatur servicetunnel","type":"nominal"}}}
],
"config":{
"background":"black",
"view":{"stroke":"#a6a6a6","strokeWidth":1},
"axis":{"labelFont":"Liberation Sans","titleFont":"Liberation Sans","labelColor":"#e8e8e8","titleColor":"white","labelFontSize":8,"titleFontSize":8,"titleFontWeight":"bold","gridColor":"#a6a6a6","gridOpacity":1,"tickColor":"#a6a6a6","domain":false},
"legend":{"labelFont":"Liberation Sans"}
}
}
